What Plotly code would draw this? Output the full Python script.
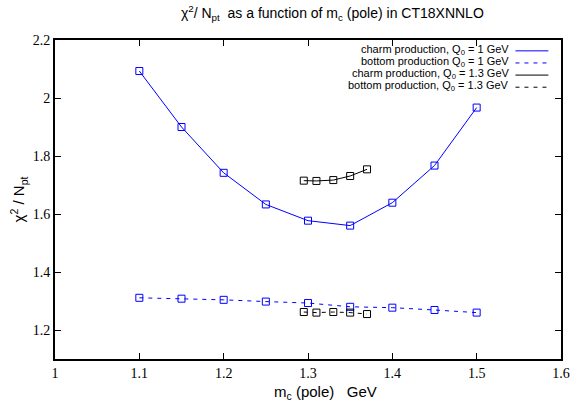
import plotly.graph_objects as go

mc_q1 = [1.1, 1.15, 1.2, 1.25, 1.3, 1.35, 1.4, 1.45, 1.5]
charm_q1 = [2.093, 1.900, 1.742, 1.633, 1.577, 1.560, 1.639, 1.767, 1.967]
bottom_q1 = [1.311, 1.308, 1.304, 1.298, 1.293, 1.280, 1.277, 1.269, 1.260]

mc_q13 = [1.295, 1.31, 1.33, 1.35, 1.37]
charm_q13 = [1.715, 1.714, 1.717, 1.731, 1.754]
bottom_q13 = [1.262, 1.260, 1.262, 1.260, 1.255]

legend_labels = [
    "charm production, Q<sub>0</sub> = 1 GeV",
    "bottom production Q<sub>0</sub> = 1 GeV",
    "charm production, Q<sub>0</sub> = 1.3 GeV",
    "bottom production, Q<sub>0</sub> = 1.3 GeV",
]
series_colors = ["#0000ff", "#0000ff", "#000000", "#000000"]
series_dash = ["solid", "4px,5px", "solid", "4px,5px"]

xs = [mc_q1, mc_q1, mc_q13, mc_q13]
ys = [charm_q1, bottom_q1, charm_q13, bottom_q13]

SANS = "Liberation Sans, Arial, sans-serif"
SERIF = "Liberation Serif, Times New Roman, serif"

fig = go.Figure()
for x, y, c, d, name in zip(xs, ys, series_colors, series_dash, legend_labels):
    fig.add_trace(go.Scatter(
        x=x, y=y, mode="lines+markers", name=name,
        line=dict(color=c, width=1, dash=d),
        marker=dict(symbol="square-open", size=7, color=c, line=dict(width=1, color=c)),
        showlegend=False,
    ))

# legend imitation (text right-aligned, sample line to the right)
row_y = [0.97, 0.932, 0.894, 0.856]
for i, (name, c, d) in enumerate(zip(legend_labels, series_colors, series_dash)):
    fig.add_annotation(
        x=0.902, y=row_y[i], xref="paper", yref="paper", text=name,
        showarrow=False, xanchor="right", yanchor="middle",
        font=dict(family=SANS, size=11, color="black"),
    )
    fig.add_shape(type="line", xref="paper", yref="paper",
                  x0=0.91, x1=0.975, y0=row_y[i] - 0.004, y1=row_y[i] - 0.004,
                  line=dict(color=c, width=1, dash=d))

# x-axis title
fig.add_annotation(
    x=0.535, y=-0.068, xref="paper", yref="paper",
    text="m<sub>c</sub> (pole)&nbsp;&nbsp; GeV", showarrow=False,
    xanchor="center", yanchor="top",
    font=dict(family=SANS, size=15, color="black"),
)

fig.update_layout(
    width=581, height=407,
    margin=dict(l=55, r=20, t=40, b=48),
    plot_bgcolor="white", paper_bgcolor="white",
    title=dict(
        text="χ<sup>2</sup>/ N<sub>pt</sub>  as a function of m<sub>c</sub> (pole) in CT18XNNLO",
        x=0.572, xanchor="center", y=0.98, yanchor="top",
        font=dict(family=SANS, size=14, color="black"),
    ),
    xaxis=dict(
        range=[1.0, 1.6], tickmode="linear", tick0=1.0, dtick=0.1, automargin=False,
        showgrid=False, zeroline=False, showline=True, linecolor="black", linewidth=2,
        mirror="ticks", ticks="inside", ticklen=6, tickcolor="black", tickwidth=1,
        tickfont=dict(family=SERIF, size=14, color="black"),
    ),
    yaxis=dict(
        range=[1.1, 2.2], tickmode="linear", tick0=1.2, dtick=0.2, automargin=False,
        showgrid=False, zeroline=False, showline=True, linecolor="black", linewidth=2,
        mirror="ticks", ticks="inside", ticklen=6, tickcolor="black", tickwidth=1,
        tickfont=dict(family=SERIF, size=14, color="black"),
        title=dict(text="χ<sup>2</sup> / N<sub>pt</sub>", standoff=4,
                   font=dict(family=SANS, size=15, color="black")),
    ),
)

fig.write_html("out.html", config={"displayModeBar": False},
               post_script="document.body.style.margin='0';document.body.style.padding='0';")
